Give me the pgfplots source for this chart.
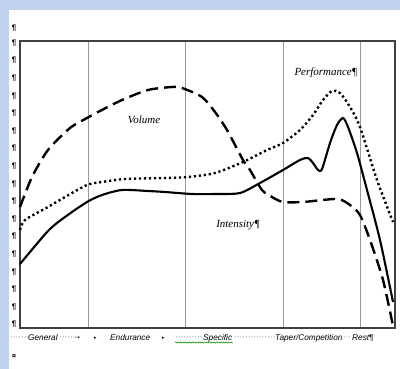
\documentclass[border=0pt]{standalone}
\usepackage{pgfplots}
\pgfplotsset{compat=1.18}
\usepackage{fontspec}
\setmainfont{Liberation Serif}
\newfontfamily\arial{Liberation Sans}
\newfontfamily\dejavu{DejaVu Sans}
\usetikzlibrary{decorations.pathmorphing}
\definecolor{bgblue}{HTML}{C3D2EC}
\definecolor{framec}{HTML}{404040}
\begin{document}
\begin{tikzpicture}[x=1bp,y=1bp]
\fill[bgblue] (0,0) rectangle (400,369);
\fill[white] (9,0) rectangle (400,359);
\begin{axis}[
  at={(20bp,41bp)}, anchor=south west,
  scale only axis, width=375bp, height=287bp,
  xmin=20, xmax=395, ymin=41, ymax=328, y dir=reverse,
  axis line style={framec, line width=1.2bp},
  xtick={88,185,283,360}, xticklabels={}, ytick=\empty,
  major tick length=0pt,
  xmajorgrids, grid style={gray!80, line width=0.8bp},
  clip=false,
]
% Volume
\addplot[black, line width=2.4bp, dash pattern=on 12bp off 6bp, smooth, tension=0.45] coordinates {
(20,207) (32,177) (48,150) (70,128) (87,118) (98,112) (122,100) (148,90) (172,87) (182,88) (202,97) (215,112) (227,130) (243,160) (250,170) (262,190) (272,197) (283,202) (303,202) (337,199) (350,205) (360,215) (370,240) (383,280) (393,326)};
% Intensity
\addplot[black, line width=2.1bp, smooth, tension=0.45] coordinates {
(20,264) (48,231) (65,217) (87,202) (102,195) (122,190) (148,191) (165,192) (192,194) (215,194) (240,193) (260,183) (283,170) (300,160) (308,158) (313,163) (318,170) (322,169) (330,143) (337,125) (343,118) (348,127) (357,153) (367,190) (380,240) (393,302)};
% Performance
\addplot[black, line width=2.4bp, dash pattern=on 2.2bp off 2.8bp, smooth, tension=0.45] coordinates {
(20,230) (25,220) (48,207) (65,197) (87,185) (102,182) (125,179) (165,178) (188,177) (215,173) (243,162) (267,150) (283,143) (300,130) (313,115) (323,100) (332,91) (340,93) (350,107) (360,127) (377,180) (393,222)};
\node[font=\fontsize{11}{12}\selectfont\itshape] at (axis cs:144,120) {Volume};
\node[font=\fontsize{11}{12}\selectfont\itshape] at (axis cs:326,73) {Performance¶};
\node[font=\fontsize{11}{12}\selectfont\itshape] at (axis cs:238,225) {Intensity¶};
% bottom labels
\begin{scope}[every node/.style={font=\arial\fontsize{8.3}{9}\selectfont\itshape, inner sep=0pt, anchor=west}]
\node[gray] at (axis cs:10,338) {\upshape ·······};
\node at (axis cs:28,338) {General};
\node[gray] at (axis cs:59,338) {\upshape ······};
\node at (axis cs:75,338) {\dejavu\upshape\fontsize{6}{7}\selectfont →};
\node at (axis cs:94,338) {\dejavu\upshape\fontsize{5}{6}\selectfont ▸};
\node at (axis cs:110,338) {Endurance};
\node at (axis cs:162,338) {\dejavu\upshape\fontsize{5}{6}\selectfont ▸};
\node[gray] at (axis cs:175,338) {\upshape ··········};
\node at (axis cs:203,338) {Specific};
\node[gray] at (axis cs:234,338) {\upshape ···············};
\node at (axis cs:275,338) {Taper/Competition};
\node[gray] at (axis cs:340,338) {\upshape ····};
\node at (axis cs:352,338) {Rest\upshape¶};
\node at (axis cs:12,356) {\upshape\bfseries\fontsize{7}{8}\selectfont ¤};
\end{scope}
\draw[green!55!black, line width=0.5bp, decorate, decoration={snake, amplitude=0.6bp, segment length=2.4bp}] (axis cs:175,342.5) -- (axis cs:233,342.5);
% paragraph marks on the left
\node[font=\arial\fontsize{8}{9}\selectfont\bfseries, inner sep=0pt] at (axis cs:14,28) {¶};
\pgfplotsinvokeforeach{43,60.6,78.2,95.8,113.4,131,148.6,166.2,183.8,201.4,219,236.6,254.2,271.8,289.4,307,324.6}{
  \node[font=\arial\fontsize{8}{9}\selectfont\bfseries, inner sep=0pt] at (axis cs:14,#1) {¶};
}
\end{axis}
\end{tikzpicture}
\end{document}
